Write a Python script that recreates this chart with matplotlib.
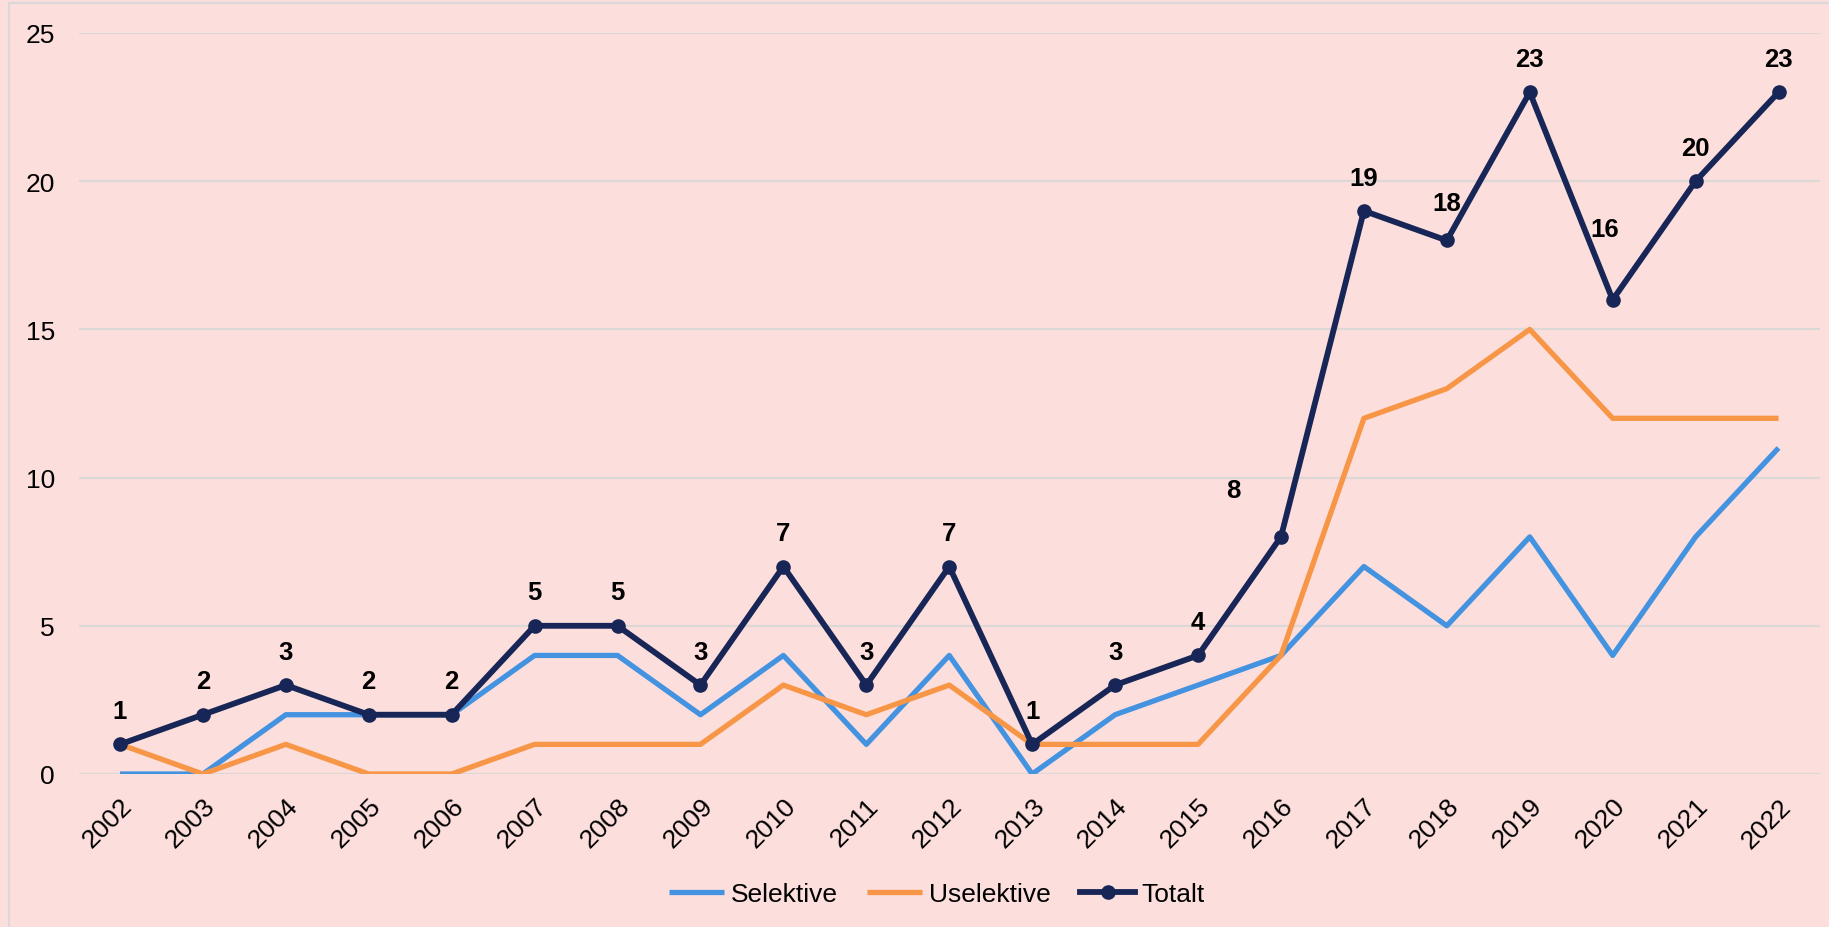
import matplotlib
matplotlib.use('Agg')
from matplotlib import pyplot as plt
from matplotlib.patches import Rectangle

plt.rcParams['font.family'] = ['Liberation Sans', 'DejaVu Sans']

# Data.
years      = [str(y) for y in range(2002, 2023)]
selektive  = [0, 0, 2, 2, 2, 4, 4, 2, 4, 1, 4, 0, 2, 3, 4, 7, 5, 8, 4, 8, 11]
uselektive = [1, 0, 1, 0, 0, 1, 1, 1, 3, 2, 3, 1, 1, 1, 4, 12, 13, 15, 12, 12, 12]
totalt     = [1, 2, 3, 2, 2, 5, 5, 3, 7, 3, 7, 1, 3, 4, 8, 19, 18, 23, 16, 20, 23]

BG     = '#FCDEDC'
BLUE   = '#4493E0'
ORANGE = '#F79646'
NAVY   = '#172656'
GRID   = '#DCD8D8'

fig = plt.figure(figsize=(18.29, 9.28), dpi=100, facecolor=BG)
ax = fig.add_axes([78.5 / 1829, 1 - 775 / 928, (1820 - 78.5) / 1829, (775 - 34) / 928])
ax.set_facecolor(BG)

# chart border (only left / top fall inside the image)
fig.patches.append(Rectangle((9 / 1829, -0.1), 1.2, 1 - 4 / 928 + 0.1,
                             transform=fig.transFigure, fill=False,
                             edgecolor='#D9D9D9', lw=1.5, zorder=0))

x = list(range(len(years)))
ax.plot(x, selektive, color=BLUE, lw=3.8, label='Selektive', solid_capstyle='butt')
ax.plot(x, uselektive, color=ORANGE, lw=3.8, label='Uselektive', solid_capstyle='butt')
ax.plot(x, totalt, color=NAVY, lw=4.2, marker='o', ms=9.5, label='Totalt')

# data labels on the total line
offsets = {14: (-34.5, 34), 16: (0, 27), 18: (-6, 51)}
for i, v in enumerate(totalt):
  dx, dy = offsets.get(i, (0, 24))
  ax.annotate(str(v), (i, v), xytext=(dx, dy), textcoords='offset points',
              ha='center', va='center', fontsize=18.5, fontweight='bold', color='black')

ax.set_xlim(-0.5, len(years) - 0.5)
ax.set_ylim(0, 25)
ax.set_yticks([0, 5, 10, 15, 20, 25])
ax.yaxis.grid(True, color=GRID, lw=1.5)
ax.set_axisbelow(True)
for s in ax.spines.values():
  s.set_visible(False)
ax.tick_params(axis='both', length=0, labelsize=19, colors='black')
ax.tick_params(axis='y', pad=17)
ax.set_xticks(x)
ax.set_xticklabels(years, rotation=45, ha='right', va='top', rotation_mode='anchor')
ax.tick_params(axis='x', pad=14)

leg = ax.legend(loc='center', bbox_to_anchor=(0.493, (895 - 775) / -741.0),
                ncol=3, frameon=False, fontsize=19, handlelength=2.1,
                handletextpad=0.25, columnspacing=1.1)

fig.savefig('out.png', dpi=100, facecolor=BG)
